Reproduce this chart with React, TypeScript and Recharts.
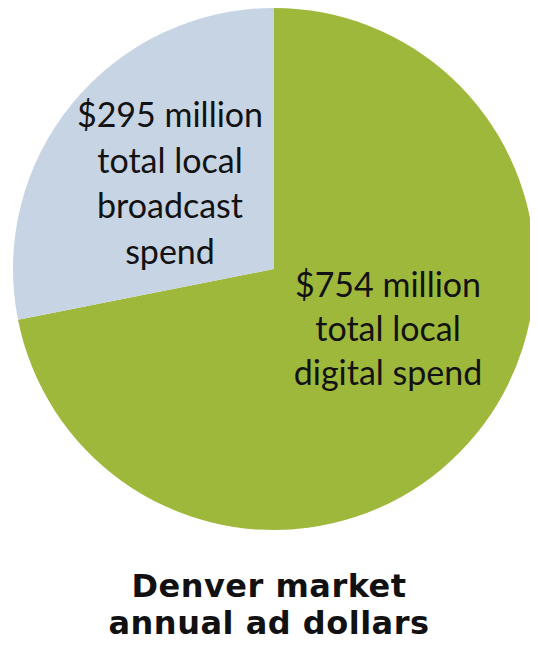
import React from "react";
import { PieChart, Pie, Cell } from "recharts";

const categories = ["Local digital", "Local broadcast"];
const values = [754, 295];
const labelLines = [
  ["$754 million", "total local", "digital spend"],
  ["$295 million", "total local", "broadcast", "spend"],
];
const titleLines = ["Denver market", "annual ad dollars"];

const COLORS = ["#9EB83B", "#C7D4E4"];
const LABEL_POS = [
  { dx: 114, dy: 28, lh: 44 },
  { dx: -104, dy: -142, lh: 45.5 },
];

const data = categories.map((name, i) => ({ name, value: values[i] }));

const W = 538;
const H = 647;
const CX = 274;
const CY = 269;
const R = 261;

const renderLabel = (props: any) => {
  const { cx, cy, index } = props;
  const pos = LABEL_POS[index];
  const lines = labelLines[index];
  return (
    <text
      key={`lbl-${index}`}
      x={cx + pos.dx}
      y={cy + pos.dy}
      textAnchor="middle"
      fill="#121212"
      style={{ fontFamily: "Lato, 'Open Sans', sans-serif", fontSize: 34 }}
    >
      {lines.map((ln, j) => (
        <tspan key={j} x={cx + pos.dx} y={cy + pos.dy + j * pos.lh}>
          {ln}
        </tspan>
      ))}
    </text>
  );
};

export default function App() {
  return (
    <div style={{ position: "relative", width: W, height: H, margin: -8, background: "#fff" }}>
      <PieChart width={W} height={H} margin={{ top: 0, right: 0, bottom: 0, left: 0 }}>
        <Pie
          data={data}
          dataKey="value"
          nameKey="name"
          cx={CX}
          cy={CY}
          outerRadius={R}
          innerRadius={0}
          startAngle={90}
          endAngle={-270}
          stroke="none"
          isAnimationActive={false}
          labelLine={false}
          label={renderLabel}
        >
          {data.map((d, i) => (
            <Cell key={d.name} fill={COLORS[i]} />
          ))}
        </Pie>
      </PieChart>
      <div
        style={{
          position: "absolute",
          left: 0,
          width: W,
          top: 568,
          textAlign: "center",
          fontFamily: "'DejaVu Sans', Verdana, sans-serif",
          fontWeight: "bold",
          fontSize: 32,
          lineHeight: "37px",
          color: "#111",
          letterSpacing: 0.5,
        }}
      >
        {titleLines.map((t) => (
          <div key={t}>{t}</div>
        ))}
      </div>
    </div>
  );
}
